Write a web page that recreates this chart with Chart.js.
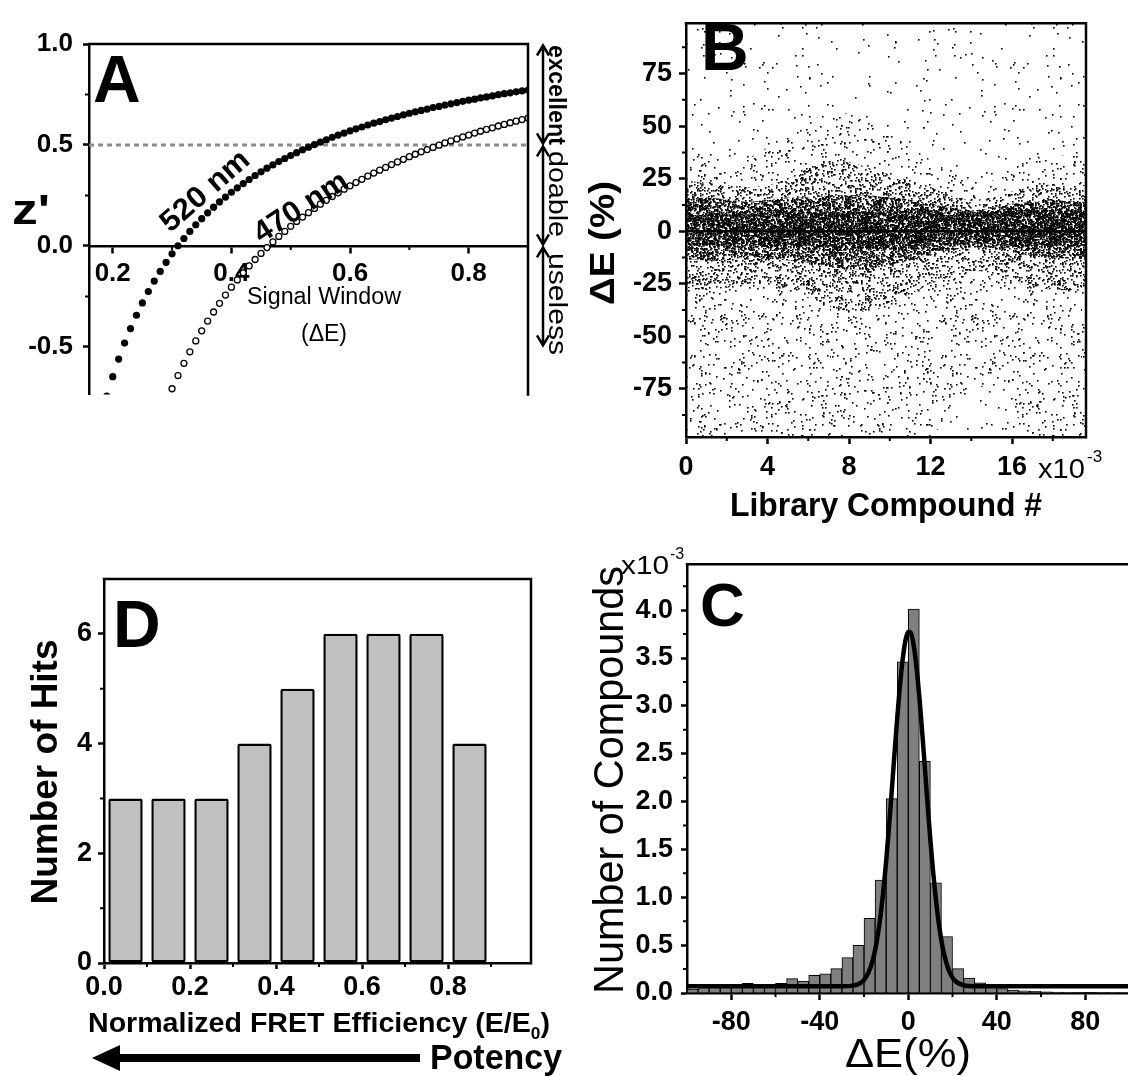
<!DOCTYPE html>
<html><head><meta charset="utf-8">
<script src="https://cdn.jsdelivr.net/npm/chart.js@4.4.1/dist/chart.umd.min.js"></script>
<style>
html,body{margin:0;padding:0;background:#fff;overflow:hidden;width:1128px;height:1076px}
.pane{position:absolute}
.pane canvas{display:block}
svg{position:absolute;left:0;top:0;pointer-events:none}
</style></head><body>
<div class="pane" style="left:0;top:0"><canvas id="cA" width="600" height="420"></canvas></div>
<div class="pane" style="left:580px;top:0"><canvas id="cB" width="548" height="540"></canvas></div>
<div class="pane" style="left:0;top:540px"><canvas id="cD" width="580" height="536"></canvas></div>
<div class="pane" style="left:580px;top:540px"><canvas id="cC" width="548" height="536"></canvas></div>
<svg width="1128" height="1076" font-family="Liberation Sans, Arial, sans-serif" fill="#000">
  <!-- Panel A -->
  <text x="93" y="102" font-size="66" font-weight="bold">A</text>
  <text x="12" y="224" font-size="42" font-weight="bold" textLength="38" lengthAdjust="spacingAndGlyphs">z'</text>
  <text transform="translate(204,190) rotate(-41)" text-anchor="middle" dy="0.35em" font-size="30" font-weight="bold" textLength="108" lengthAdjust="spacingAndGlyphs">520 nm</text>
  <text transform="translate(300,206) rotate(-33)" text-anchor="middle" dy="0.35em" font-size="30" font-weight="bold" textLength="106" lengthAdjust="spacingAndGlyphs">470 nm</text>
  <text x="324" y="304" text-anchor="middle" font-size="23" textLength="154" lengthAdjust="spacingAndGlyphs">Signal Window</text>
  <text x="324" y="341" text-anchor="middle" font-size="23">(ΔE)</text>
  <text transform="translate(549,95) rotate(90)" text-anchor="middle" font-size="24" font-weight="bold" textLength="100" lengthAdjust="spacingAndGlyphs">excellent</text>
  <text transform="translate(549,194) rotate(90)" text-anchor="middle" font-size="25" textLength="86" lengthAdjust="spacingAndGlyphs">doable</text>
  <text transform="translate(549,304) rotate(90)" text-anchor="middle" font-size="25" textLength="102" lengthAdjust="spacingAndGlyphs">useless</text>
  <!-- Panel B -->
  <text x="701" y="70" font-size="66" font-weight="bold">B</text>
  <text transform="translate(614,243) rotate(-90)" text-anchor="middle" font-size="35" font-weight="bold" textLength="124" lengthAdjust="spacingAndGlyphs">ΔE (%)</text>
  <text x="886" y="516" text-anchor="middle" font-size="33" font-weight="bold" textLength="312" lengthAdjust="spacingAndGlyphs">Library Compound #</text>
  <text x="1038" y="478" font-size="27" textLength="47" lengthAdjust="spacingAndGlyphs">x10</text>
  <text x="1087" y="462" font-size="17">-3</text>
  <!-- Panel C -->
  <text x="700" y="626" font-size="62" font-weight="bold">C</text>
  <text x="621" y="574" font-size="25" textLength="48" lengthAdjust="spacingAndGlyphs">x10</text>
  <text x="670" y="559" font-size="16">-3</text>
  <text transform="translate(623,780) rotate(-90)" text-anchor="middle" font-size="43" textLength="428" lengthAdjust="spacingAndGlyphs">Number of Compounds</text>
  <text x="908" y="1067" text-anchor="middle" font-size="41" textLength="126" lengthAdjust="spacingAndGlyphs">ΔE(%)</text>
  <!-- Panel D -->
  <text x="113" y="647" font-size="66" font-weight="bold">D</text>
  <text transform="translate(57,772) rotate(-90)" text-anchor="middle" font-size="37" font-weight="bold" textLength="265" lengthAdjust="spacingAndGlyphs">Number of Hits</text>
  <text x="88" y="1032" font-size="28" font-weight="bold" textLength="462" lengthAdjust="spacingAndGlyphs">Normalized FRET Efficiency (E/E<tspan font-size="17" dy="7">0</tspan><tspan dy="-7">)</tspan></text>
  <text x="430" y="1069" font-size="35" font-weight="bold" textLength="132" lengthAdjust="spacingAndGlyphs">Potency</text>
  <path d="M92,1058 L120,1045 L120,1054 L420,1054 L420,1062 L120,1062 L120,1071 Z" fill="#000"/>
</svg>
<script>
// ===================== DATA =====================
// Panel A : Z' versus signal window (ΔE)
const dE520 = [0.19,0.20,0.21,0.22,0.23,0.24,0.25,0.26,0.27,0.28,0.29,0.30,0.31,0.32,0.33,0.34,0.35,0.36,0.37,0.38,0.39,0.40,0.41,0.42,0.43,0.44,0.45,0.46,0.47,0.48,0.49,0.50,0.51,0.52,0.53,0.54,0.55,0.56,0.57,0.58,0.59,0.60,0.61,0.62,0.63,0.64,0.65,0.66,0.67,0.68,0.69,0.70,0.71,0.72,0.73,0.74,0.75,0.76,0.77,0.78,0.79,0.80,0.81,0.82,0.83,0.84,0.85,0.86,0.87,0.88,0.89,0.90];
const z520 = [-0.743,-0.647,-0.560,-0.481,-0.409,-0.343,-0.282,-0.226,-0.174,-0.126,-0.081,-0.039,0.001,0.037,0.072,0.105,0.135,0.164,0.192,0.218,0.242,0.266,0.288,0.309,0.329,0.349,0.367,0.385,0.401,0.418,0.433,0.448,0.462,0.476,0.489,0.502,0.514,0.526,0.538,0.549,0.559,0.570,0.580,0.589,0.599,0.608,0.616,0.625,0.633,0.641,0.649,0.657,0.664,0.671,0.678,0.685,0.691,0.698,0.704,0.710,0.716,0.722,0.727,0.733,0.738,0.743,0.749,0.754,0.758,0.763,0.768,0.772];
const dE470 = [0.30,0.31,0.32,0.33,0.34,0.35,0.36,0.37,0.38,0.39,0.40,0.41,0.42,0.43,0.44,0.45,0.46,0.47,0.48,0.49,0.50,0.51,0.52,0.53,0.54,0.55,0.56,0.57,0.58,0.59,0.60,0.61,0.62,0.63,0.64,0.65,0.66,0.67,0.68,0.69,0.70,0.71,0.72,0.73,0.74,0.75,0.76,0.77,0.78,0.79,0.80,0.81,0.82,0.83,0.84,0.85,0.86,0.87,0.88,0.89,0.90];
const z470 = [-0.707,-0.642,-0.581,-0.524,-0.470,-0.420,-0.372,-0.327,-0.284,-0.243,-0.204,-0.168,-0.133,-0.099,-0.067,-0.037,-0.008,0.020,0.047,0.072,0.097,0.121,0.143,0.165,0.186,0.207,0.226,0.245,0.263,0.281,0.298,0.314,0.330,0.346,0.361,0.375,0.389,0.403,0.416,0.429,0.442,0.454,0.466,0.477,0.488,0.499,0.510,0.520,0.530,0.540,0.549,0.559,0.568,0.577,0.585,0.594,0.602,0.610,0.618,0.626,0.633];
const aXRange = [0.16, 0.90];
const aYRange = [-0.735, 1.0];
const aThreshold = 0.5;
const aRanges = [[1.0, 0.5], [0.5, 0.0], [0.0, -0.5]];
const aXTicks = [0.2, 0.4, 0.6, 0.8];
const aYTicks = [1.0, 0.5, 0.0, -0.5];
const aXMinor = [0.3, 0.5, 0.7];
const aYMinor = [0.75, 0.25, -0.25];

// Panel B : ΔE (%) of each library compound (x in thousands) – density envelopes
const scanX   = [0,1,2,3,4,5,6,7,8,9,10,11,12,13,14,15,16,17,18,19,19.6];
const innerHi = [8,9,8,8,8,9,9,9,9,9,9,9,9,9,9,9,10,10,10,10,10];
const innerLo = [-7,-7,-7,-6,-7,-7,-7,-8,-8,-8,-8,-7,-7,-6,-6,-6,-7,-7,-7,-7,-7];
const coreHi  = [15,16,15,14,15,16,16,17,17,17,16,15,13,11,10,11,13,14,15,14,14];
const coreLo  = [-13,-14,-14,-12,-13,-14,-15,-17,-18,-18,-16,-14,-11,-9,-8,-8,-10,-12,-13,-13,-13];
const midHi   = [24,23,22,21,22,25,30,33,33,30,27,24,21,17,15,16,19,22,22,22,22];
const midLo   = [-27,-28,-27,-25,-26,-28,-32,-36,-38,-38,-35,-30,-25,-21,-19,-20,-24,-26,-28,-28,-27];
const lightHi = [38,40,38,35,40,45,52,56,56,52,46,40,34,28,24,24,30,35,36,36,36];
const lightLo = [-98,-98,-98,-98,-98,-98,-98,-98,-98,-98,-98,-98,-98,-85,-75,-75,-85,-98,-98,-98,-98];
const traceX  = [0, 19.6];
const traceHi = [99, 99];
const traceLo = [-98, -98];
const bXRange = [0, 19.63];
const bYRange = [-98, 99];
const bXTicks = [0, 4, 8, 12, 16];
const bYTicks = [-75, -50, -25, 0, 25, 50, 75];
const bXMinor = [2, 6, 10, 14, 18];
const bYMinor = [-87.5, -62.5, -37.5, -12.5, 12.5, 37.5, 62.5, 87.5];

// Panel C : histogram of ΔE (%) (x10^-3) with Gaussian fit
const histCenters = [-97.5,-92.5,-87.5,-82.5,-77.5,-72.5,-67.5,-62.5,-57.5,-52.5,-47.5,-42.5,-37.5,-32.5,-27.5,-22.5,-17.5,-12.5,-7.5,-2.5,2.5,7.5,12.5,17.5,22.5,27.5,32.5,37.5,42.5,47.5,52.5,57.5,62.5,67.5,72.5,77.5,82.5,87.5,92.5,97.5];
const histCounts  = [0.04,0.065,0.07,0.075,0.08,0.10,0.085,0.09,0.10,0.15,0.125,0.185,0.20,0.255,0.37,0.497,0.78,1.18,2.03,3.46,4.01,2.42,1.15,0.59,0.255,0.157,0.105,0.07,0.045,0.03,0.022,0.018,0.012,0.01,0.008,0.006,0.005,0.004,0.003,0.002];
const fitX = [-100,-30,-25,-22,-20,-18,-16,-15,-14,-13,-12,-11,-10,-9,-8,-7,-6,-5,-4,-3,-2,-1,0,1,2,3,4,5,6,7,8,9,10,11,12,13,14,15,16,18,20,22,25,30,100];
const fitY = [0.07,0.0705,0.077,0.099,0.137,0.212,0.347,0.447,0.572,0.726,0.912,1.129,1.377,1.652,1.948,2.258,2.569,2.870,3.148,3.389,3.580,3.711,3.774,3.767,3.690,3.546,3.344,3.095,2.812,2.508,2.195,1.888,1.595,1.325,1.083,0.873,0.693,0.545,0.425,0.257,0.161,0.111,0.081,0.0707,0.07];
const cXRange = [-100, 99.3];
const cYRange = [0, 4.48];
const cXTicks = [-80, -40, 0, 40, 80];
const cYTicks = [0, 0.5, 1.0, 1.5, 2.0, 2.5, 3.0, 3.5, 4.0];
const cXMinor = [-60, -20, 20, 60];
const cYMinor = [0.25, 0.75, 1.25, 1.75, 2.25, 2.75, 3.25, 3.75, 4.25];

// Panel D : number of hits vs normalized FRET efficiency
const hitBins   = [0.05, 0.15, 0.25, 0.35, 0.45, 0.55, 0.65, 0.75, 0.85];
const hitCounts = [3, 3, 3, 4, 5, 6, 6, 6, 4];
const dXRange = [0, 0.993];
const dYRange = [0, 7];
const dXTicks = [0, 0.2, 0.4, 0.6, 0.8];
const dYTicks = [0, 2, 4, 6];
const dXMinor = [0.1, 0.3, 0.5, 0.7, 0.9];
const dYMinor = [1, 3, 5];

// ===================== HELPERS =====================
const FAM = "'Liberation Sans', Arial, sans-serif";
const pts = (xs, ys) => xs.map((x, i) => ({x, y: ys[i]}));

const framePlugin = {
  id: 'frame',
  afterDraw(chart, _a, o) {
    if (!o || !o.on) return;
    const {ctx, chartArea: a, scales} = chart;
    const xs = scales.x, ys = scales.y;
    ctx.save();
    ctx.strokeStyle = '#000';
    ctx.lineWidth = o.lw;
    const h = o.lw / 2;
    ctx.beginPath();
    if (o.top) { ctx.moveTo(a.left - h, a.top); ctx.lineTo(a.right + h, a.top); }
    if (o.right) { ctx.moveTo(a.right, a.top - h); ctx.lineTo(a.right, a.bottom + h); }
    ctx.stroke();
    ctx.lineWidth = 2;
    ctx.beginPath();
    (o.minorY || []).forEach(v => { const y = ys.getPixelForValue(v); ctx.moveTo(a.left, y); ctx.lineTo(a.left - 4, y); });
    const xa = o.xAxisAt != null ? ys.getPixelForValue(o.xAxisAt) : a.bottom;
    (o.minorX || []).forEach(v => { const x = xs.getPixelForValue(v); ctx.moveTo(x, xa); ctx.lineTo(x, xa + 4); });
    ctx.stroke();
    ctx.restore();
  }
};
const rangeArrows = {
  id: 'rangeArrows',
  afterDraw(chart, _a, o) {
    if (!o || !o.ranges) return;
    const {ctx, chartArea: a, scales: {y}} = chart;
    const x = a.right + o.offset;
    ctx.save();
    ctx.strokeStyle = '#000'; ctx.lineWidth = 2.5;
    o.ranges.forEach(([v1, v2]) => {
      const y1 = y.getPixelForValue(v1) + 1.5, y2 = y.getPixelForValue(v2) - 1.5;
      ctx.beginPath();
      ctx.moveTo(x, y1); ctx.lineTo(x, y2);
      ctx.moveTo(x - 6, y1 + 10); ctx.lineTo(x, y1); ctx.lineTo(x + 6, y1 + 10);
      ctx.moveTo(x - 6, y2 - 10); ctx.lineTo(x, y2); ctx.lineTo(x + 6, y2 - 10);
      ctx.stroke();
    });
    ctx.restore();
  }
};
Chart.register(framePlugin, rangeArrows);

function axis({range, ticks, size, tickLen, pad, fmt, width, height, position, lw}) {
  const o = {
    type: 'linear', min: range[0], max: range[1], offset: false,
    position: position,
    grid: {display: true, drawOnChartArea: false, drawTicks: true, tickLength: tickLen, tickWidth: 2.5, tickColor: '#000', offset: false},
    border: {display: true, color: '#000', width: lw || 2.5},
    ticks: {color: '#000', padding: pad, autoSkip: false, maxRotation: 0, font: {family: FAM, weight: 'bold', size: size}, callback: fmt},
    afterBuildTicks: s => { s.ticks = ticks.map(v => ({value: v})); },
  };
  if (width != null) o.afterFit = s => { s.width = width; };
  if (height != null) o.afterFit = s => { s.height = height; };
  return o;
}
const base = {responsive: false, animation: false, events: [], devicePixelRatio: 1};
const noLegend = {legend: {display: false}, tooltip: {enabled: false}};

// stipple texture (a fill style only) used to render the dense scatter clouds of panel B
function stipple(density, seed) {
  const N = 251, c = document.createElement('canvas');
  c.width = N; c.height = N;
  const g = c.getContext('2d');
  g.fillStyle = '#000';
  let s = seed >>> 0;
  const next = () => { s = (Math.imul(s, 1664525) + 1013904223) >>> 0; return s >>> 12; };
  const n = Math.round(density * N * N / 2.4);
  for (let i = 0; i < n; i++) { const x = next() % N, y = next() % N; g.fillRect(x, y, 1.6, 1.6); }
  return g.createPattern(c, 'repeat');
}

// ===================== PANEL A =====================
new Chart(document.getElementById('cA'), {
  type: 'scatter',
  data: {datasets: [
    {data: pts(dE520, z520), pointRadius: 3.6, pointBackgroundColor: '#000', pointBorderWidth: 0, order: 1},
    {data: pts(dE470, z470), pointRadius: 3.0, pointBackgroundColor: '#fff', pointBorderColor: '#000', pointBorderWidth: 1.3, order: 2},
    {type: 'line', data: pts(aXRange, [aThreshold, aThreshold]), borderColor: '#8c8c8c', borderWidth: 3, borderDash: [5, 4], pointRadius: 0, order: 3},
  ]},
  options: {...base,
    layout: {padding: {top: 44, right: 72, bottom: 16, left: 0}},
    plugins: {...noLegend,
      frame: {on: true, top: true, right: true, lw: 2.5, minorX: aXMinor, minorY: aYMinor, xAxisAt: 0},
      rangeArrows: {ranges: aRanges, offset: 15}},
    scales: {
      x: axis({range: aXRange, ticks: aXTicks, size: 26, tickLen: 6, pad: 6, fmt: v => v.toFixed(1), position: {y: 0}}),
      y: axis({range: aYRange, ticks: aYTicks, size: 26, tickLen: 6, pad: 10, fmt: v => v.toFixed(1), width: 89, position: 'left'}),
    }
  }
});

// ===================== PANEL B =====================
const band = (xs, hi, lo, pat) => [
  {data: pts(xs, hi), borderWidth: 0, pointRadius: 0, tension: 0.3, fill: '+1', backgroundColor: pat},
  {data: pts(xs, lo), borderWidth: 0, pointRadius: 0, tension: 0.3, fill: false},
];
new Chart(document.getElementById('cB'), {
  type: 'line',
  data: {datasets: [
    ...band(traceX, traceHi, traceLo, stipple(0.013, 11)),
    ...band(scanX, lightHi, lightLo, stipple(0.045, 23)),
    ...band(scanX, midHi, midLo, stipple(0.18, 37)),
    ...band(scanX, coreHi, coreLo, stipple(0.6, 53)),
    ...band(scanX, innerHi, innerLo, stipple(0.55, 71)),
    {data: pts(bXRange, [0, 0]), borderColor: '#000', borderWidth: 2.5, pointRadius: 0, fill: false},
  ]},
  options: {...base,
    layout: {padding: {top: 13, right: 42, bottom: 0, left: 0}},
    plugins: {...noLegend, frame: {on: true, top: true, right: true, lw: 2.5, minorX: bXMinor, minorY: bYMinor}},
    scales: {
      x: axis({range: bXRange, ticks: bXTicks, size: 27, tickLen: 7, pad: 7, fmt: v => String(v), height: 103, position: 'bottom'}),
      y: axis({range: bYRange, ticks: bYTicks, size: 27, tickLen: 7, pad: 7, fmt: v => String(v), width: 106, position: 'left'}),
    }
  }
});

// ===================== PANEL C =====================
new Chart(document.getElementById('cC'), {
  type: 'bar',
  data: {datasets: [
    {type: 'line', data: pts(fitX, fitY), borderColor: '#000', borderWidth: 4.5, pointRadius: 0, cubicInterpolationMode: 'monotone', fill: false, order: 1},
    {type: 'bar', data: pts(histCenters, histCounts), backgroundColor: '#808080', borderColor: '#000', borderWidth: 1, barPercentage: 1, categoryPercentage: 1, order: 2},
  ]},
  options: {...base,
    layout: {padding: {top: 21, right: 0, bottom: 0, left: 0}},
    plugins: {...noLegend, frame: {on: true, top: true, right: false, lw: 2.5, minorX: cXMinor, minorY: cYMinor}},
    scales: {
      x: axis({range: cXRange, ticks: cXTicks, size: 27, tickLen: 7, pad: 6, fmt: v => String(v), height: 83, position: 'bottom'}),
      y: axis({range: cYRange, ticks: cYTicks, size: 27, tickLen: 6, pad: 8, fmt: v => v.toFixed(1), width: 107, position: 'left'}),
    }
  }
});

// ===================== PANEL D =====================
new Chart(document.getElementById('cD'), {
  type: 'bar',
  data: {datasets: [
    {data: pts(hitBins, hitCounts), backgroundColor: '#c0c0c0', borderColor: '#000', borderWidth: 2.5, borderRadius: 2, borderSkipped: false, barPercentage: 0.8, categoryPercentage: 1},
  ]},
  options: {...base,
    layout: {padding: {top: 39, right: 49, bottom: 0, left: 0}},
    plugins: {...noLegend, frame: {on: true, top: true, right: true, lw: 2.5, minorX: dXMinor, minorY: dYMinor}},
    scales: {
      x: axis({range: dXRange, ticks: dXTicks, size: 27, tickLen: 6, pad: 2, fmt: v => v.toFixed(1), height: 113, position: 'bottom'}),
      y: axis({range: dYRange, ticks: dYTicks, size: 27, tickLen: 6, pad: 6, fmt: v => String(v), width: 104, position: 'left'}),
    }
  }
});
</script>
</body></html>
